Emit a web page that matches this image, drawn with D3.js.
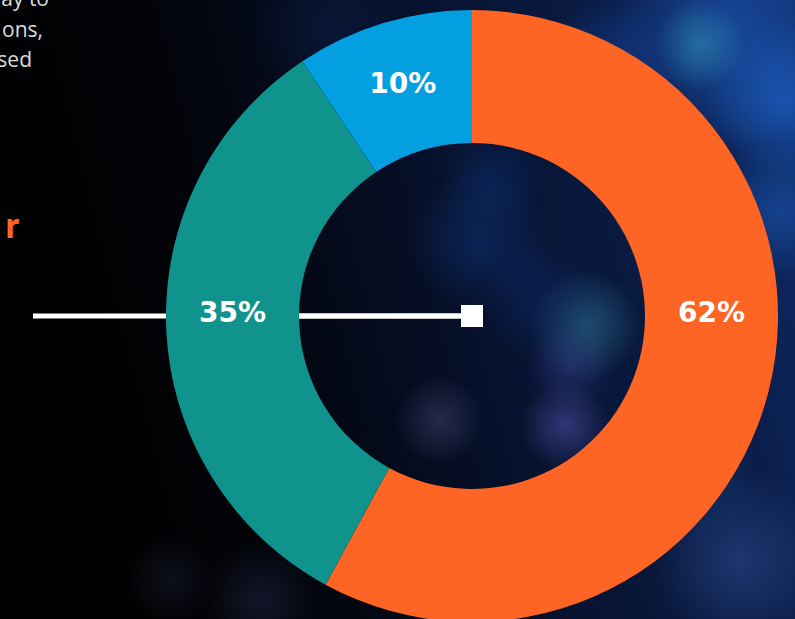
<!DOCTYPE html>
<html lang="en">
  <head>
    <meta charset="utf-8">
    <script src="https://d3js.org/d3.v7.min.js"></script>
    <style>
      body { margin: 0; background: #000; overflow: hidden; }
    </style>
  </head>
  <body>
    <div id="chart">
      <svg width="795" height="619"></svg>
    </div>
    <script type="text/javascript">
      // Data
      var labels = ["62%", "35%", "10%"];
      var values = [62, 35, 10];
      var colors = ["#fe6525", "#10938c", "#039fe1"];
      var introLines = ["ay to", "ons,", "sed"];
      var headingFragment = "r";

      var svg = d3.select("svg"),
        width = +svg.attr("width"),
        height = +svg.attr("height");

      var cx = 472, cy = 316;
      var outerR = 306, innerR = 173;

      // Background
      var defs = svg.append("defs");
      var bg = defs.append("linearGradient").attr("id", "bg")
        .attr("x1", "0").attr("y1", "0.2").attr("x2", "1").attr("y2", "0");
      bg.append("stop").attr("offset", "0").attr("stop-color", "#000000");
      bg.append("stop").attr("offset", "0.22").attr("stop-color", "#020409");
      bg.append("stop").attr("offset", "0.5").attr("stop-color", "#06102a");
      bg.append("stop").attr("offset", "0.8").attr("stop-color", "#0a1d48");
      bg.append("stop").attr("offset", "1").attr("stop-color", "#0e2c6a");
      svg.append("rect").attr("width", width).attr("height", height).attr("fill", "url(#bg)");

      // soft bokeh glow (decoration only): x, y, radius, colour, strength
      var glow = [
        [730, 30, 120, "#1a4fa8", 0.8], [700, 45, 45, "#2d8ab0", 0.6],
        [785, 100, 80, "#1d62c8", 0.7], [620, 60, 70, "#123f90", 0.6],
        [780, 210, 70, "#1d5fc0", 0.5], [585, 325, 55, "#2d7290", 0.6],
        [570, 365, 45, "#34408f", 0.5], [565, 425, 45, "#5050a8", 0.55],
        [440, 420, 45, "#40456f", 0.5], [480, 240, 70, "#0e3070", 0.6],
        [490, 180, 50, "#0d3070", 0.5], [740, 560, 90, "#2c4c90", 0.55],
        [690, 470, 70, "#153a80", 0.45], [330, 30, 80, "#0b1f48", 0.5],
        [260, 600, 60, "#22264a", 0.5], [170, 580, 45, "#1b1e34", 0.5],
        [430, 570, 60, "#2a3060", 0.5], [540, 300, 60, "#0e2a68", 0.5]
      ];
      var glowGrad = defs.selectAll("radialGradient").data(glow).join("radialGradient")
        .attr("id", (d, i) => "glow" + i);
      glowGrad.append("stop").attr("offset", "0")
        .attr("stop-color", d => d[3]).attr("stop-opacity", d => d[4]);
      glowGrad.append("stop").attr("offset", "0.45")
        .attr("stop-color", d => d[3]).attr("stop-opacity", d => d[4] * 0.6);
      glowGrad.append("stop").attr("offset", "1")
        .attr("stop-color", d => d[3]).attr("stop-opacity", 0);
      svg.append("g").selectAll("circle").data(glow).join("circle")
        .attr("cx", d => d[0]).attr("cy", d => d[1]).attr("r", d => d[2])
        .attr("fill", (d, i) => "url(#glow" + i + ")");

      // Intro text, cut off at left edge
      svg.append("g").selectAll("text").data(introLines).join("text")
        .attr("x", (d, i) => [49, 43, 32][i])
        .attr("y", (d, i) => 6 + i * 30.5)
        .attr("text-anchor", "end")
        .attr("fill", "#dcdcdc")
        .style("font-family", "'Open Sans', sans-serif")
        .style("font-size", "21px")
        .text(d => d);

      svg.append("text")
        .attr("x", 19).attr("y", 238)
        .attr("text-anchor", "end")
        .attr("fill", "#fe6525")
        .style("font-family", "Lato, sans-serif")
        .style("font-weight", 900)
        .style("font-size", "36px")
        .text(headingFragment);

      // Pointer line
      svg.append("line")
        .attr("x1", 33).attr("x2", cx).attr("y1", cy).attr("y2", cy)
        .attr("stroke", "#fff").attr("stroke-width", 5);

      // Donut
      var pie = d3.pie().sort(null).value(d => d);
      var arc = d3.arc().innerRadius(innerR).outerRadius(outerR);
      var arcs = pie(values);

      var g = svg.append("g").attr("transform", `translate(${cx},${cy})`);
      g.selectAll("path").data(arcs).join("path")
        .attr("d", arc)
        .attr("fill", (d, i) => colors[i]);

      // line shows again inside the hole
      g.append("line")
        .attr("x1", -innerR).attr("x2", 0).attr("y1", 0).attr("y2", 0)
        .attr("stroke", "#fff").attr("stroke-width", 5);
      g.append("rect")
        .attr("x", -11).attr("y", -11).attr("width", 22).attr("height", 22)
        .attr("fill", "#fff");

      // Labels: horizontal if the slice spans 3 or 9 o'clock, else centroid
      var labelR = (innerR + outerR) / 2;
      function labelAngle(d) {
        var marks = [Math.PI / 2, 3 * Math.PI / 2];
        for (var m of marks) {
          if (d.startAngle <= m && d.endAngle >= m) return m;
        }
        return (d.startAngle + d.endAngle) / 2;
      }
      g.selectAll("text.lbl").data(arcs).join("text")
        .attr("class", "lbl")
        .attr("x", d => labelR * Math.sin(labelAngle(d)))
        .attr("y", d => -labelR * Math.cos(labelAngle(d)) - 4)
        .attr("dy", "0.36em")
        .attr("text-anchor", "middle")
        .attr("fill", "#fff")
        .style("font-family", "'DejaVu Sans', sans-serif")
        .style("font-weight", "bold")
        .style("font-size", "28px")
        .text((d, i) => labels[i]);
    </script>
  </body>
</html>
